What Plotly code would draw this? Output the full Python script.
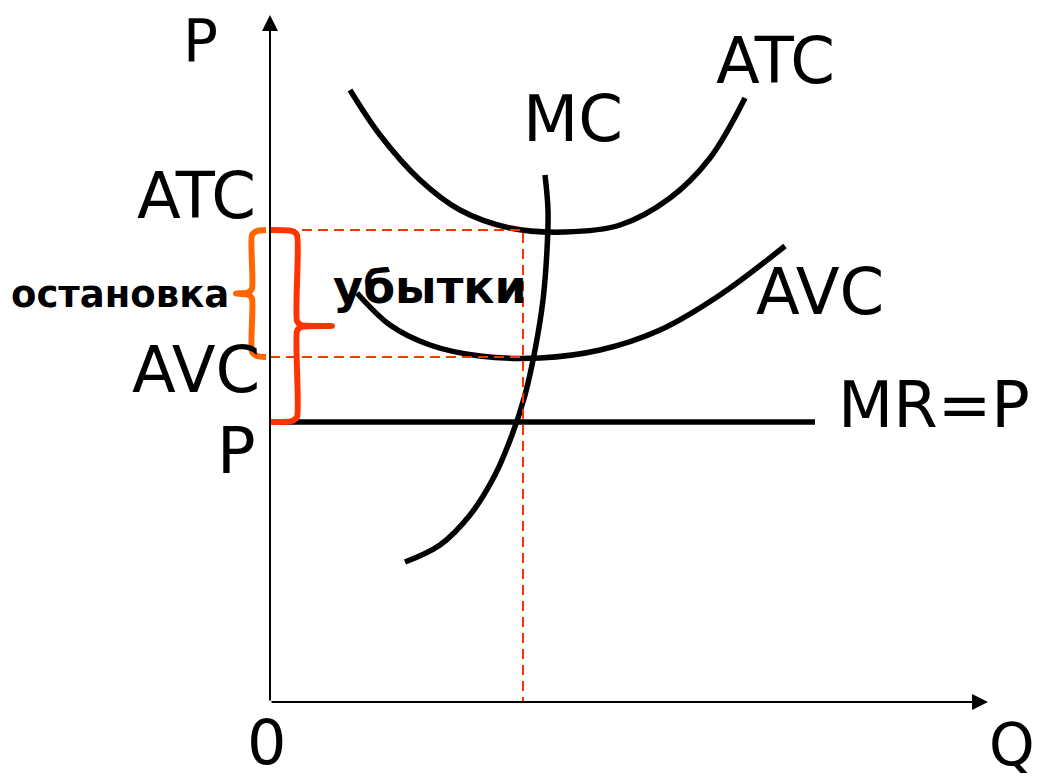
import plotly.graph_objects as go

# curves (Q, P), origin at the axes corner
atc_q = [8.0, 11.0, 15.0, 19.0, 24.0, 29.5, 35.0, 40.0, 44.0, 47.5]
atc_p = [61.2, 56.7, 52.2, 49.2, 47.4, 47.0, 47.7, 50.4, 54.4, 60.4]

avc_q = [8.7, 12.0, 16.0, 21.0, 27.0, 33.0, 39.0, 45.0, 51.5]
avc_p = [40.9, 37.7, 35.7, 34.6, 34.4, 35.2, 37.2, 40.7, 45.6]

mc_q = [13.5, 17.0, 20.0, 22.5, 24.2, 25.5, 26.5, 27.3, 27.7, 27.8, 27.5]
mc_p = [14.0, 15.7, 18.7, 22.7, 26.7, 30.7, 35.2, 40.2, 45.2, 49.2, 52.7]

mr_q = [0, 54.5]
price = 28.0
q_star = 25.3
atc_level = 47.2
avc_level = 34.5

q_max = 71.8
p_max = 68.7

BLACK = "#000000"
RED = "#FF3300"
ORANGE = "#FF6600"
FONT = "DejaVu Sans"


def brace(spine, end, tip, top, bottom, r=0.5):
    # curly brace from top to bottom, pointing at tip
    mid = (top + bottom) / 2
    d = 1 if end > spine else -1
    xs = [end, spine + d * r, spine, spine, spine - d * r * 0.8, tip,
          spine - d * r * 0.8, spine, spine, spine + d * r, end]
    ys = [top, top - 0.1, top - r, mid + r, mid + 0.1, mid,
          mid - 0.1, mid - r, bottom + r, bottom + 0.1, bottom]
    return xs, ys


fig = go.Figure()

line = dict(color=BLACK, width=5.5, shape="spline", smoothing=1.0)
fig.add_trace(go.Scatter(x=atc_q, y=atc_p, mode="lines", line=line))
fig.add_trace(go.Scatter(x=avc_q, y=avc_p, mode="lines", line=line))
fig.add_trace(go.Scatter(x=mc_q, y=mc_p, mode="lines", line=line))
fig.add_trace(go.Scatter(x=mr_q, y=[price, price], mode="lines",
                         line=dict(color=BLACK, width=5.5)))

# dashed guides
dash = dict(color=RED, width=2, dash="10px,6px")
fig.add_trace(go.Scatter(x=[0, q_star, q_star], y=[atc_level, atc_level, 0],
                         mode="lines", line=dash))
fig.add_trace(go.Scatter(x=[0, q_star], y=[avc_level, avc_level],
                         mode="lines", line=dash))

# braces
bx, by = brace(-1.8, -0.4, -3.4, atc_level, avc_level)
fig.add_trace(go.Scatter(x=bx, y=by, mode="lines",
                         line=dict(color=ORANGE, width=6, shape="spline", smoothing=0.6)))
bx, by = brace(2.7, 0.0, 6.2, atc_level, price)
fig.add_trace(go.Scatter(x=bx, y=by, mode="lines",
                         line=dict(color=RED, width=6, shape="spline", smoothing=0.6)))

# axes with arrows
fig.add_annotation(x=0, y=p_max, ax=0, ay=0, xref="x", yref="y", axref="x", ayref="y",
                   showarrow=True, arrowhead=2, arrowsize=1.6, arrowwidth=2,
                   arrowcolor=BLACK, text="")
fig.add_annotation(x=q_max, y=0, ax=0, ay=0, xref="x", yref="y", axref="x", ayref="y",
                   showarrow=True, arrowhead=2, arrowsize=1.6, arrowwidth=2,
                   arrowcolor=BLACK, text="")

labels = [
    ("P", -7.0, 66.1, 58, False),
    ("ATC", -7.4, 50.6, 64, False),
    ("остановка", -15.0, 40.8, 37, True),
    ("AVC", -7.4, 33.2, 64, False),
    ("P", -3.4, 25.1, 64, False),
    ("0", -0.4, -4.0, 62, False),
    ("Q", 74.2, -4.3, 58, False),
    ("MC", 30.3, 58.3, 64, False),
    ("ATC", 50.5, 64.1, 64, False),
    ("убытки", 16.0, 41.5, 46, True),
    ("AVC", 55.0, 41.0, 64, False),
    ("MR=P", 66.4, 29.7, 64, False),
]
for text, x, y, size, bold in labels:
    fig.add_annotation(x=x, y=y, xref="x", yref="y", showarrow=False,
                       text=f"<b>{text}</b>" if bold else text,
                       font=dict(family=FONT, size=size, color=BLACK),
                       xanchor="center", yanchor="middle")

# the page adds an 8px body margin, so the figure is 8px smaller each way
fig.update_layout(
    width=1032, height=775, autosize=False,
    margin=dict(l=0, r=0, t=0, b=0),
    paper_bgcolor="white", plot_bgcolor="white",
    showlegend=False,
    xaxis=dict(range=[-26.2, 77.0], visible=False, fixedrange=True),
    yaxis=dict(range=[-8.1, 69.4], visible=False, fixedrange=True),
)

fig.write_html("out.html")
